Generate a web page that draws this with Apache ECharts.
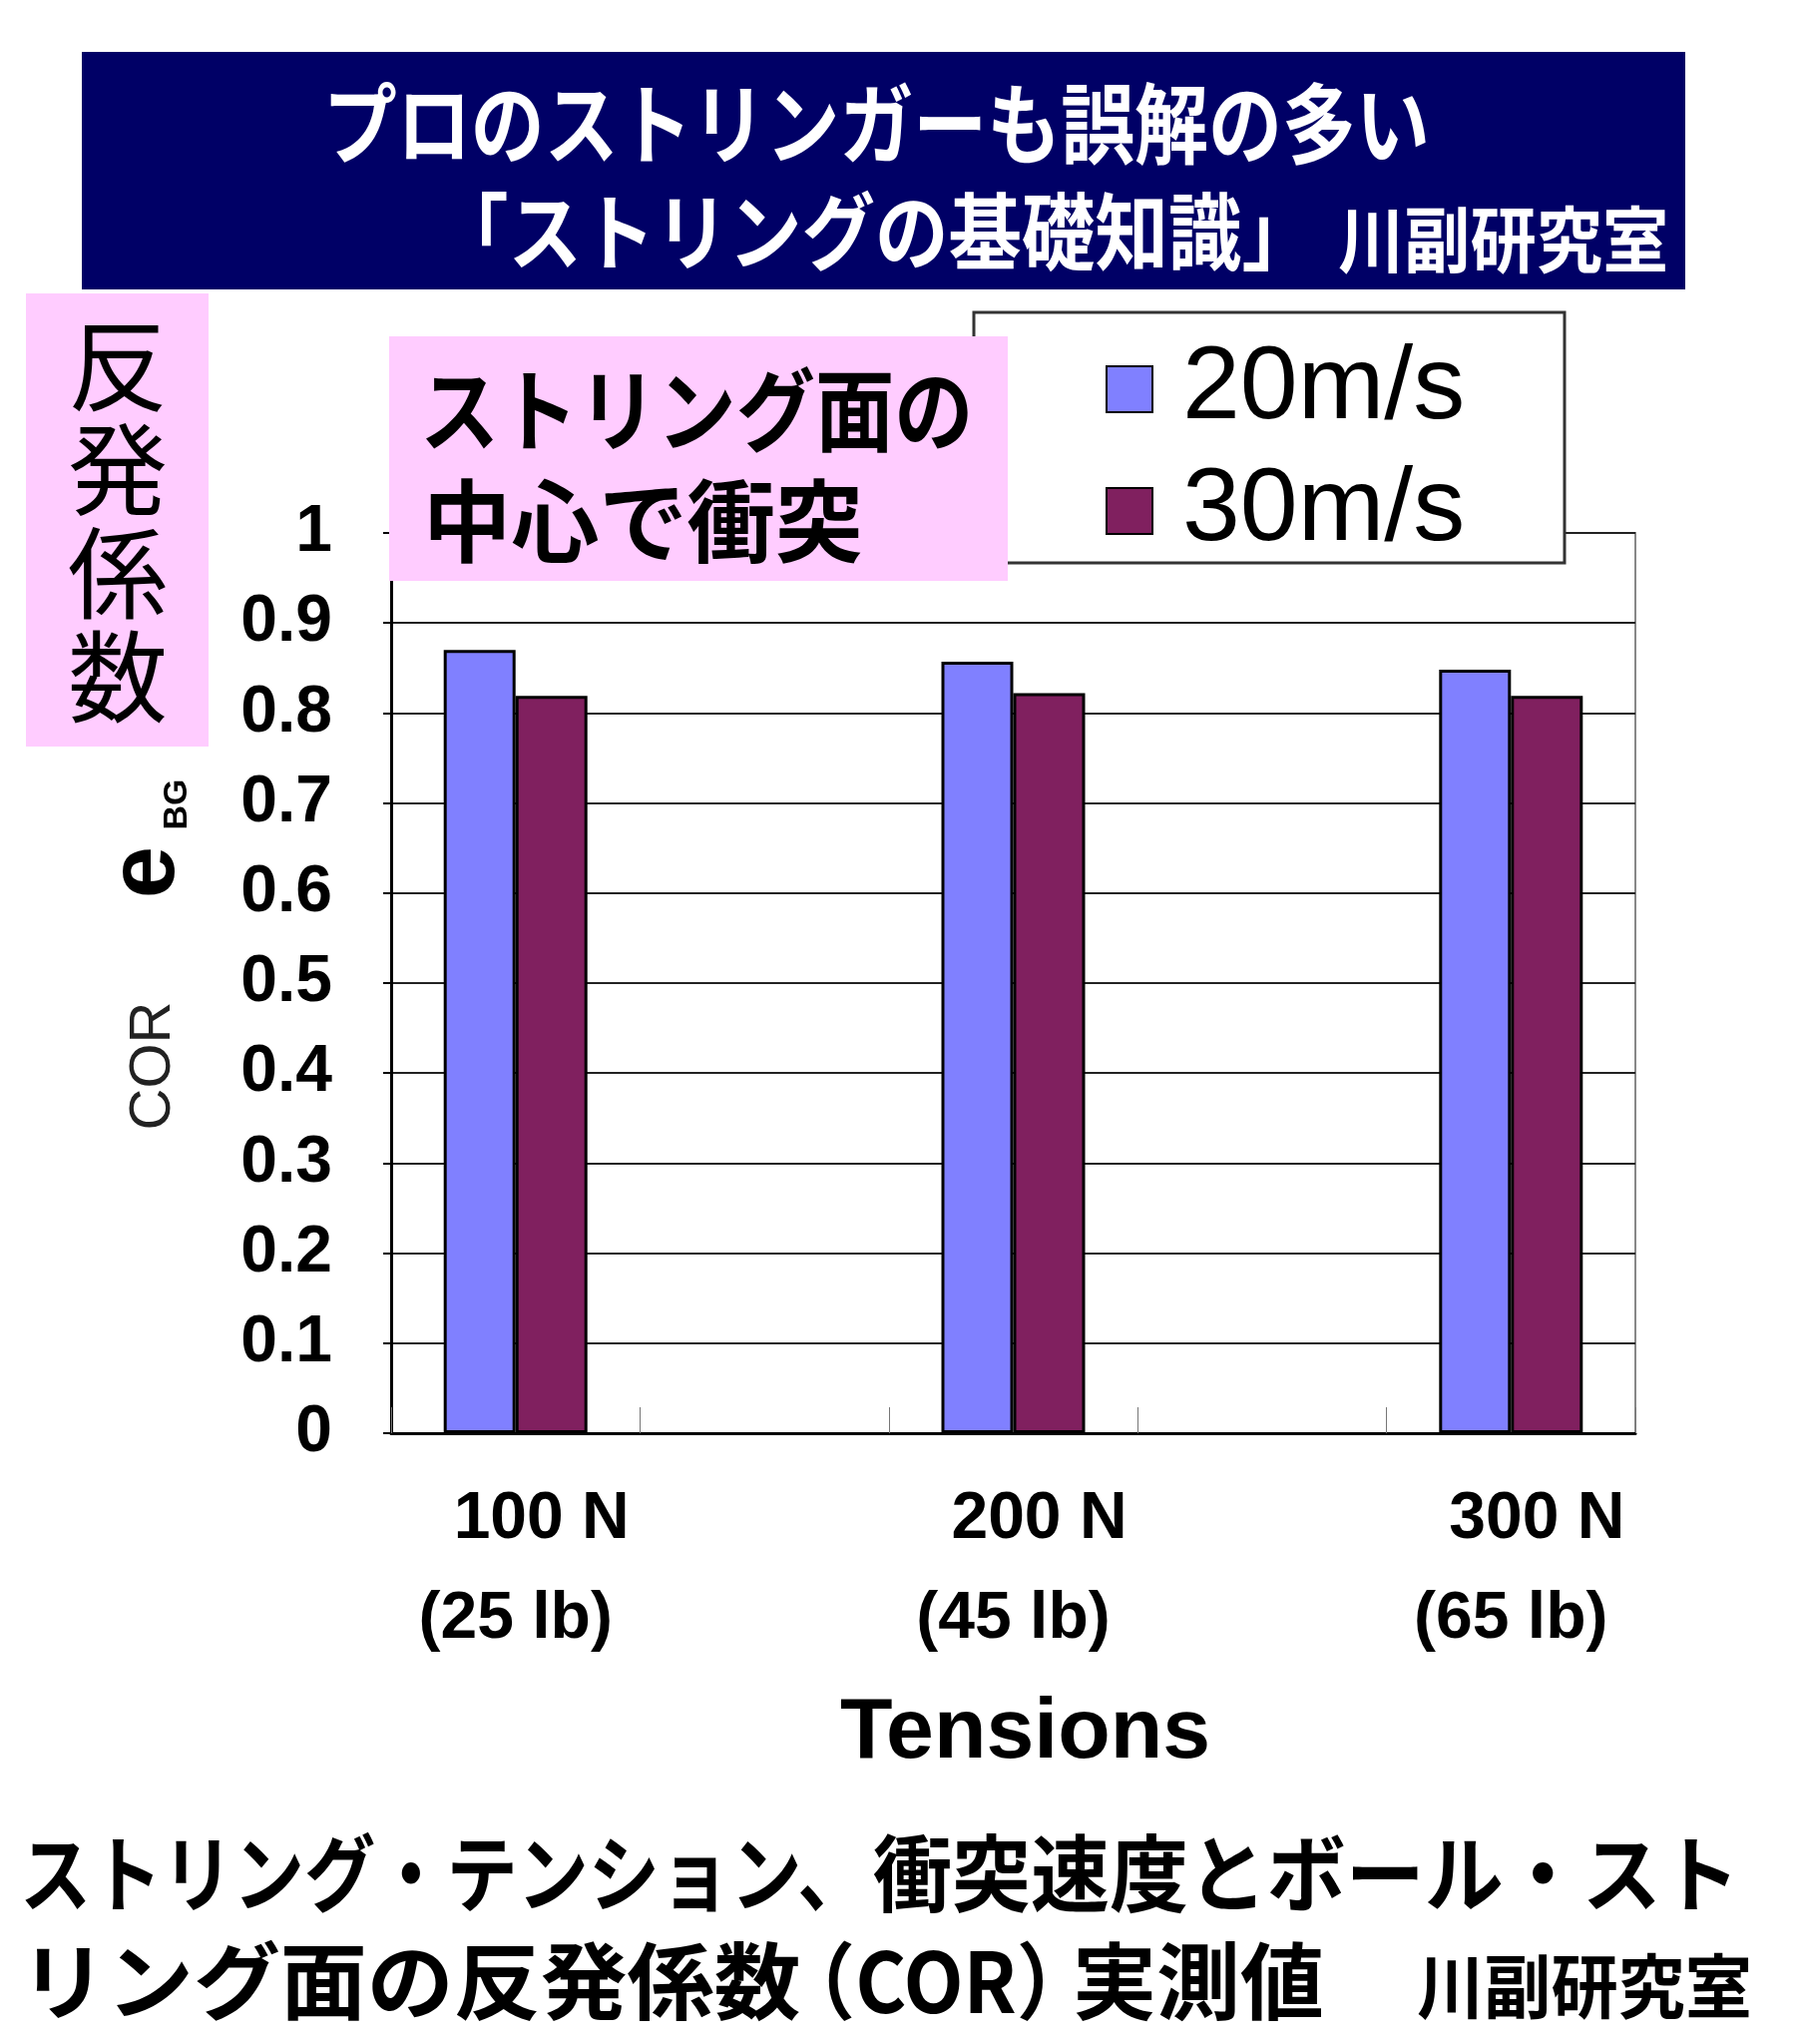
<!DOCTYPE html>
<html><head><meta charset="utf-8">
<script src="https://cdn.jsdelivr.net/npm/echarts@6/dist/echarts.min.js"></script>
<style>html,body{margin:0;padding:0;background:#fff}#c{width:1806px;height:2048px}</style>
</head><body><div id="c"></div>
<script>
// ---- data ----
const tensions = ['100 N', '200 N', '300 N'];
const tensionsLb = ['(25 lb)', '(45 lb)', '(65 lb)'];
const seriesNames = ['20m/s', '30m/s'];
const cor20 = [0.870, 0.857, 0.848];
const cor30 = [0.819, 0.822, 0.819];
const yTicks = { min: 0, max: 1, interval: 0.1 };

// build 5-slot category axis (empty slots between tensions)
const slotCats = [];
const slotIdx = [];
tensions.forEach((t, i) => {
  if (i > 0) { slotCats.push(''); slotIdx.push(-1); }
  slotCats.push(t); slotIdx.push(i);
});
const toSlots = arr => slotIdx.map(k => (k < 0 ? '-' : arr[k]));

const JP = '"Noto Sans CJK JP"';
function jt(text, x, y, size, scaleX, opts) {
  opts = opts || {};
  return { type: 'text', z: opts.z || 6, x: x, y: y, scaleX: scaleX,
    style: { text: text, fill: opts.fill || '#000', font: (opts.weight || 'bold') + ' ' + size + 'px ' + JP,
      align: opts.align || 'left', verticalAlign: 'middle', lineHeight: opts.lineHeight } };
}

const chart = echarts.init(document.getElementById('c'), null, { renderer: 'canvas' });
chart.setOption({
  backgroundColor: '#ffffff',
  animation: false,
  grid: { left: 392, right: 167, top: 534, bottom: 612, show: true, borderColor: '#888', borderWidth: 2, backgroundColor: 'transparent' },
  legend: {
    z: 10, orient: 'vertical', left: 1103, top: 330, itemWidth: 46, itemHeight: 46, itemGap: 12,
    icon: 'rect', data: seriesNames,
    textStyle: { fontFamily: 'Liberation Sans', fontSize: 104, color: '#000', lineHeight: 110, padding: [0, 0, 0, 25] }
  },
  xAxis: {
    type: 'category', data: slotCats,
    name: 'Tensions', nameLocation: 'middle', nameGap: 258,
    nameTextStyle: { fontFamily: 'Liberation Sans', fontWeight: 'bold', fontSize: 86, color: '#000', padding: [0, 0, 0, 24] },
    axisLine: { lineStyle: { color: '#000', width: 3 } },
    axisTick: { show: true, inside: true, length: 26, interval: 0, lineStyle: { color: '#777', width: 1 } },
    axisLabel: {
      interval: 0, margin: 37, color: '#000',
      formatter: (v, i) => {
        const k = slotIdx[i];
        return k < 0 ? '' : '{a|' + tensions[k] + '}\n{b|' + tensionsLb[k] + '}';
      },
      rich: {
        a: { fontFamily: 'Liberation Sans', fontWeight: 'bold', fontSize: 66, lineHeight: 100, padding: [0, 0, 0, 52], color: '#000' },
        b: { fontFamily: 'Liberation Sans', fontWeight: 'bold', fontSize: 66, lineHeight: 100, color: '#000' }
      }
    }
  },
  yAxis: {
    type: 'value', min: yTicks.min, max: yTicks.max, interval: yTicks.interval,
    axisLine: { show: true, lineStyle: { color: '#000', width: 3 } },
    axisTick: { show: true, length: 8, lineStyle: { color: '#000', width: 2 } },
    splitLine: { lineStyle: { color: '#222', width: 2 } },
    axisLabel: {
      margin: 59, color: '#000', fontFamily: 'Liberation Sans', fontWeight: 'bold', fontSize: 66,
      formatter: v => (Math.abs(v) < 1e-9 ? '0' : Math.abs(v - 1) < 1e-9 ? '1' : v.toFixed(1))
    }
  },
  series: [
    { name: seriesNames[0], type: 'bar', data: toSlots(cor20), barWidth: 72, barGap: '0%',
      itemStyle: { color: '#8080ff', borderColor: '#000', borderWidth: 3 } },
    { name: seriesNames[1], type: 'bar', data: toSlots(cor30), barWidth: 72, barGap: '0%',
      itemStyle: { color: '#80205f', borderColor: '#000', borderWidth: 3 } }
  ],
  graphic: { elements: [
    // title banner
    { type: 'rect', z: 5, shape: { x: 82, y: 52, width: 1607, height: 238 }, style: { fill: '#000066' } },
    jt('プロのストリンガーも誤解の多い', 324, 124, 88, 0.84, { fill: '#fff' }),
    jt('「ストリングの基礎知識」', 436, 232, 84, 0.875, { fill: '#fff' }),
    jt('川副研究室', 1341, 240, 72, 0.92, { fill: '#fff' }),

    // legend frame (under the pink box)
    { type: 'rect', z: 4, shape: { x: 976, y: 313, width: 592, height: 251 }, style: { fill: '#fff', stroke: '#333', lineWidth: 3 } },

    // left pink label
    { type: 'rect', z: 5, shape: { x: 26, y: 294, width: 183, height: 454 }, style: { fill: '#ffccff' } },
    jt('反\n発\n係\n数', 118, 522, 100, 1, { weight: 'normal', align: 'center', lineHeight: 104 }),

    // middle pink note
    { type: 'rect', z: 5, shape: { x: 390, y: 337, width: 620, height: 245 }, style: { fill: '#ffccff' } },
    jt('ストリング面の', 421, 411, 90, 0.88),
    jt('中心で衝突', 424, 522, 90, 0.98),

    // rotated y-axis name
    { type: 'text', z: 6, x: 154, y: 1068, rotation: Math.PI / 2,
      style: { text: 'COR', fill: '#222', font: '58px "Liberation Sans"', align: 'center', verticalAlign: 'middle' } },
    { type: 'text', z: 6, x: 148, y: 874, rotation: Math.PI / 2,
      style: { text: 'e', fill: '#000', font: 'bold 94px "Liberation Sans"', align: 'center', verticalAlign: 'middle' } },
    { type: 'text', z: 6, x: 178, y: 806, rotation: Math.PI / 2,
      style: { text: 'BG', fill: '#000', font: 'bold 34px "Liberation Sans"', align: 'center', verticalAlign: 'middle' } },

    // caption
    jt('ストリング・テンション、', 20, 1877, 84, 0.848),
    jt('衝突速度とボール・スト', 875, 1877, 84, 0.94),
    jt('リング面の反発係数', 20, 1985, 84, 1.035),
    jt('（COR）', 938, 1985, 84, 0.93, { align: 'center' }),
    jt('実測値', 1075, 1985, 84, 1.0),
    jt('川副研究室', 1420, 1990, 70, 0.96)
  ] }
});
</script></body></html>
